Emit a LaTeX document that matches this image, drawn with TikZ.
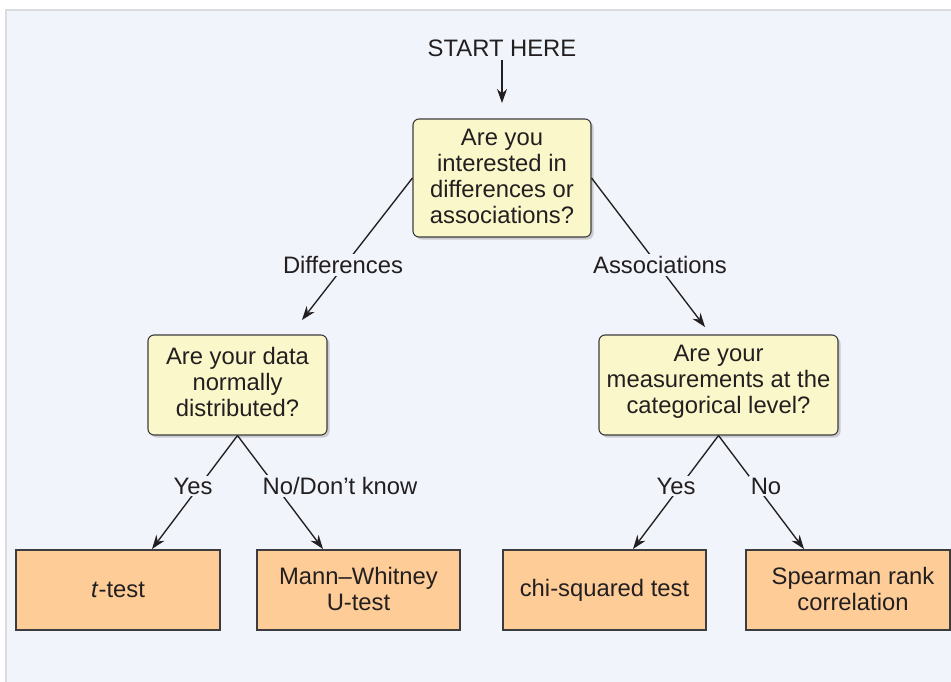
\documentclass[tikz,border=0pt]{standalone}
\usepackage{fontspec}
\setmainfont{Liberation Sans}
\usetikzlibrary{arrows.meta,shadows}
\definecolor{panelbg}{RGB}{241,244,250}
\definecolor{panelline}{RGB}{218,220,224}
\definecolor{qfill}{RGB}{250,248,202}
\definecolor{afill}{RGB}{253,204,151}
\definecolor{ink}{RGB}{35,31,32}
\definecolor{boxline}{RGB}{60,60,62}
\tikzset{
  qbox/.style={draw=boxline, line width=1.1pt, fill=qfill, rounded corners=6pt,
    inner sep=0pt,
    drop shadow={opacity=0.35, shadow xshift=2.5pt, shadow yshift=-2.5pt}},
  abox/.style={draw=boxline, line width=1.1pt, fill=afill,
    inner sep=0pt, minimum height=80pt},
  txt/.style={align=center, inner sep=0pt, text=ink},
  lbl/.style={fill=panelbg, inner sep=2pt, text=ink},
  conn/.style={draw=ink, line width=1.35pt},
  arr/.style={conn, -{Stealth[length=14pt,width=10pt]}}
}
\begin{document}
\begin{tikzpicture}[x=1pt,y=-1pt,font=\fontsize{23.8}{26}\selectfont]
\useasboundingbox (0,0) rectangle (951,682);
\fill[white] (0,0) rectangle (951,682);
\fill[panelbg] (6,10) rectangle (951,682);
\draw[panelline, line width=1.5pt] (6,682) -- (6,10) -- (951,10);

% nodes
\node[text=ink] (start) at (502,48) {START HERE};
\node[qbox, minimum width=178pt, minimum height=118pt] (q1) at (502,178) {};
\node[txt] (q1t) at (502,176) {Are you\\interested in\\differences or\\associations?};
\node[qbox, minimum width=179pt, minimum height=100pt] (q2) at (237.5,385) {};
\node[txt] (q2t) at (237.5,381.5) {Are your data\\normally\\distributed?};
\node[qbox, minimum width=239pt, minimum height=100pt] (q3) at (718.5,385) {};
\node[txt] (q3t) at (718.5,381.5) {Are your\\measurements at the\\categorical level?};
\node[abox, minimum width=204pt] (tt) at (118,590) {};
\node[txt] (ttt) at (118,590) {\textit{t}-test};
\node[abox, minimum width=203pt] (mw) at (358.5,590) {};
\node[txt] (mwt) at (358.5,589) {Mann–Whitney\\U-test};
\node[abox, minimum width=203pt] (chi) at (604.5,590) {};
\node[txt] (chit) at (604.5,590) {chi-squared test};
\node[abox, minimum width=204pt] (sp) at (848,590) {};
\node[txt] (spt) at (853,589) {Spearman rank\\correlation};

% arrow end points
\coordinate (dtip) at (302,320);
\coordinate (atip) at (705,327);
\coordinate (ttip) at (152,549);
\coordinate (mtip) at (323,549);
\coordinate (ctip) at (633,549);
\coordinate (stip) at (804,549);
\coordinate (q1tip) at (502,103);

% connectors
\draw[arr] (start.south) -- (q1tip);
\draw[arr] (q1.west) -- (dtip);
\draw[arr] (q1.east) -- (atip);
\draw[arr] (q2.south) -- (ttip);
\draw[arr] (q2.south) -- (mtip);
\draw[arr] (q3.south) -- (ctip);
\draw[arr] (q3.south) -- (stip);

% labels
\node[lbl] (ldiff) at (343,265) {Differences};
\node[lbl] (lassoc) at (660,265) {Associations};
\node[lbl] (lyes1) at (193,486) {Yes};
\node[lbl] (lno1) at (340,486) {No/Don’t know};
\node[lbl] (lyes2) at (676,486) {Yes};
\node[lbl] (lno2) at (766,486) {No};
\end{tikzpicture}
\end{document}
